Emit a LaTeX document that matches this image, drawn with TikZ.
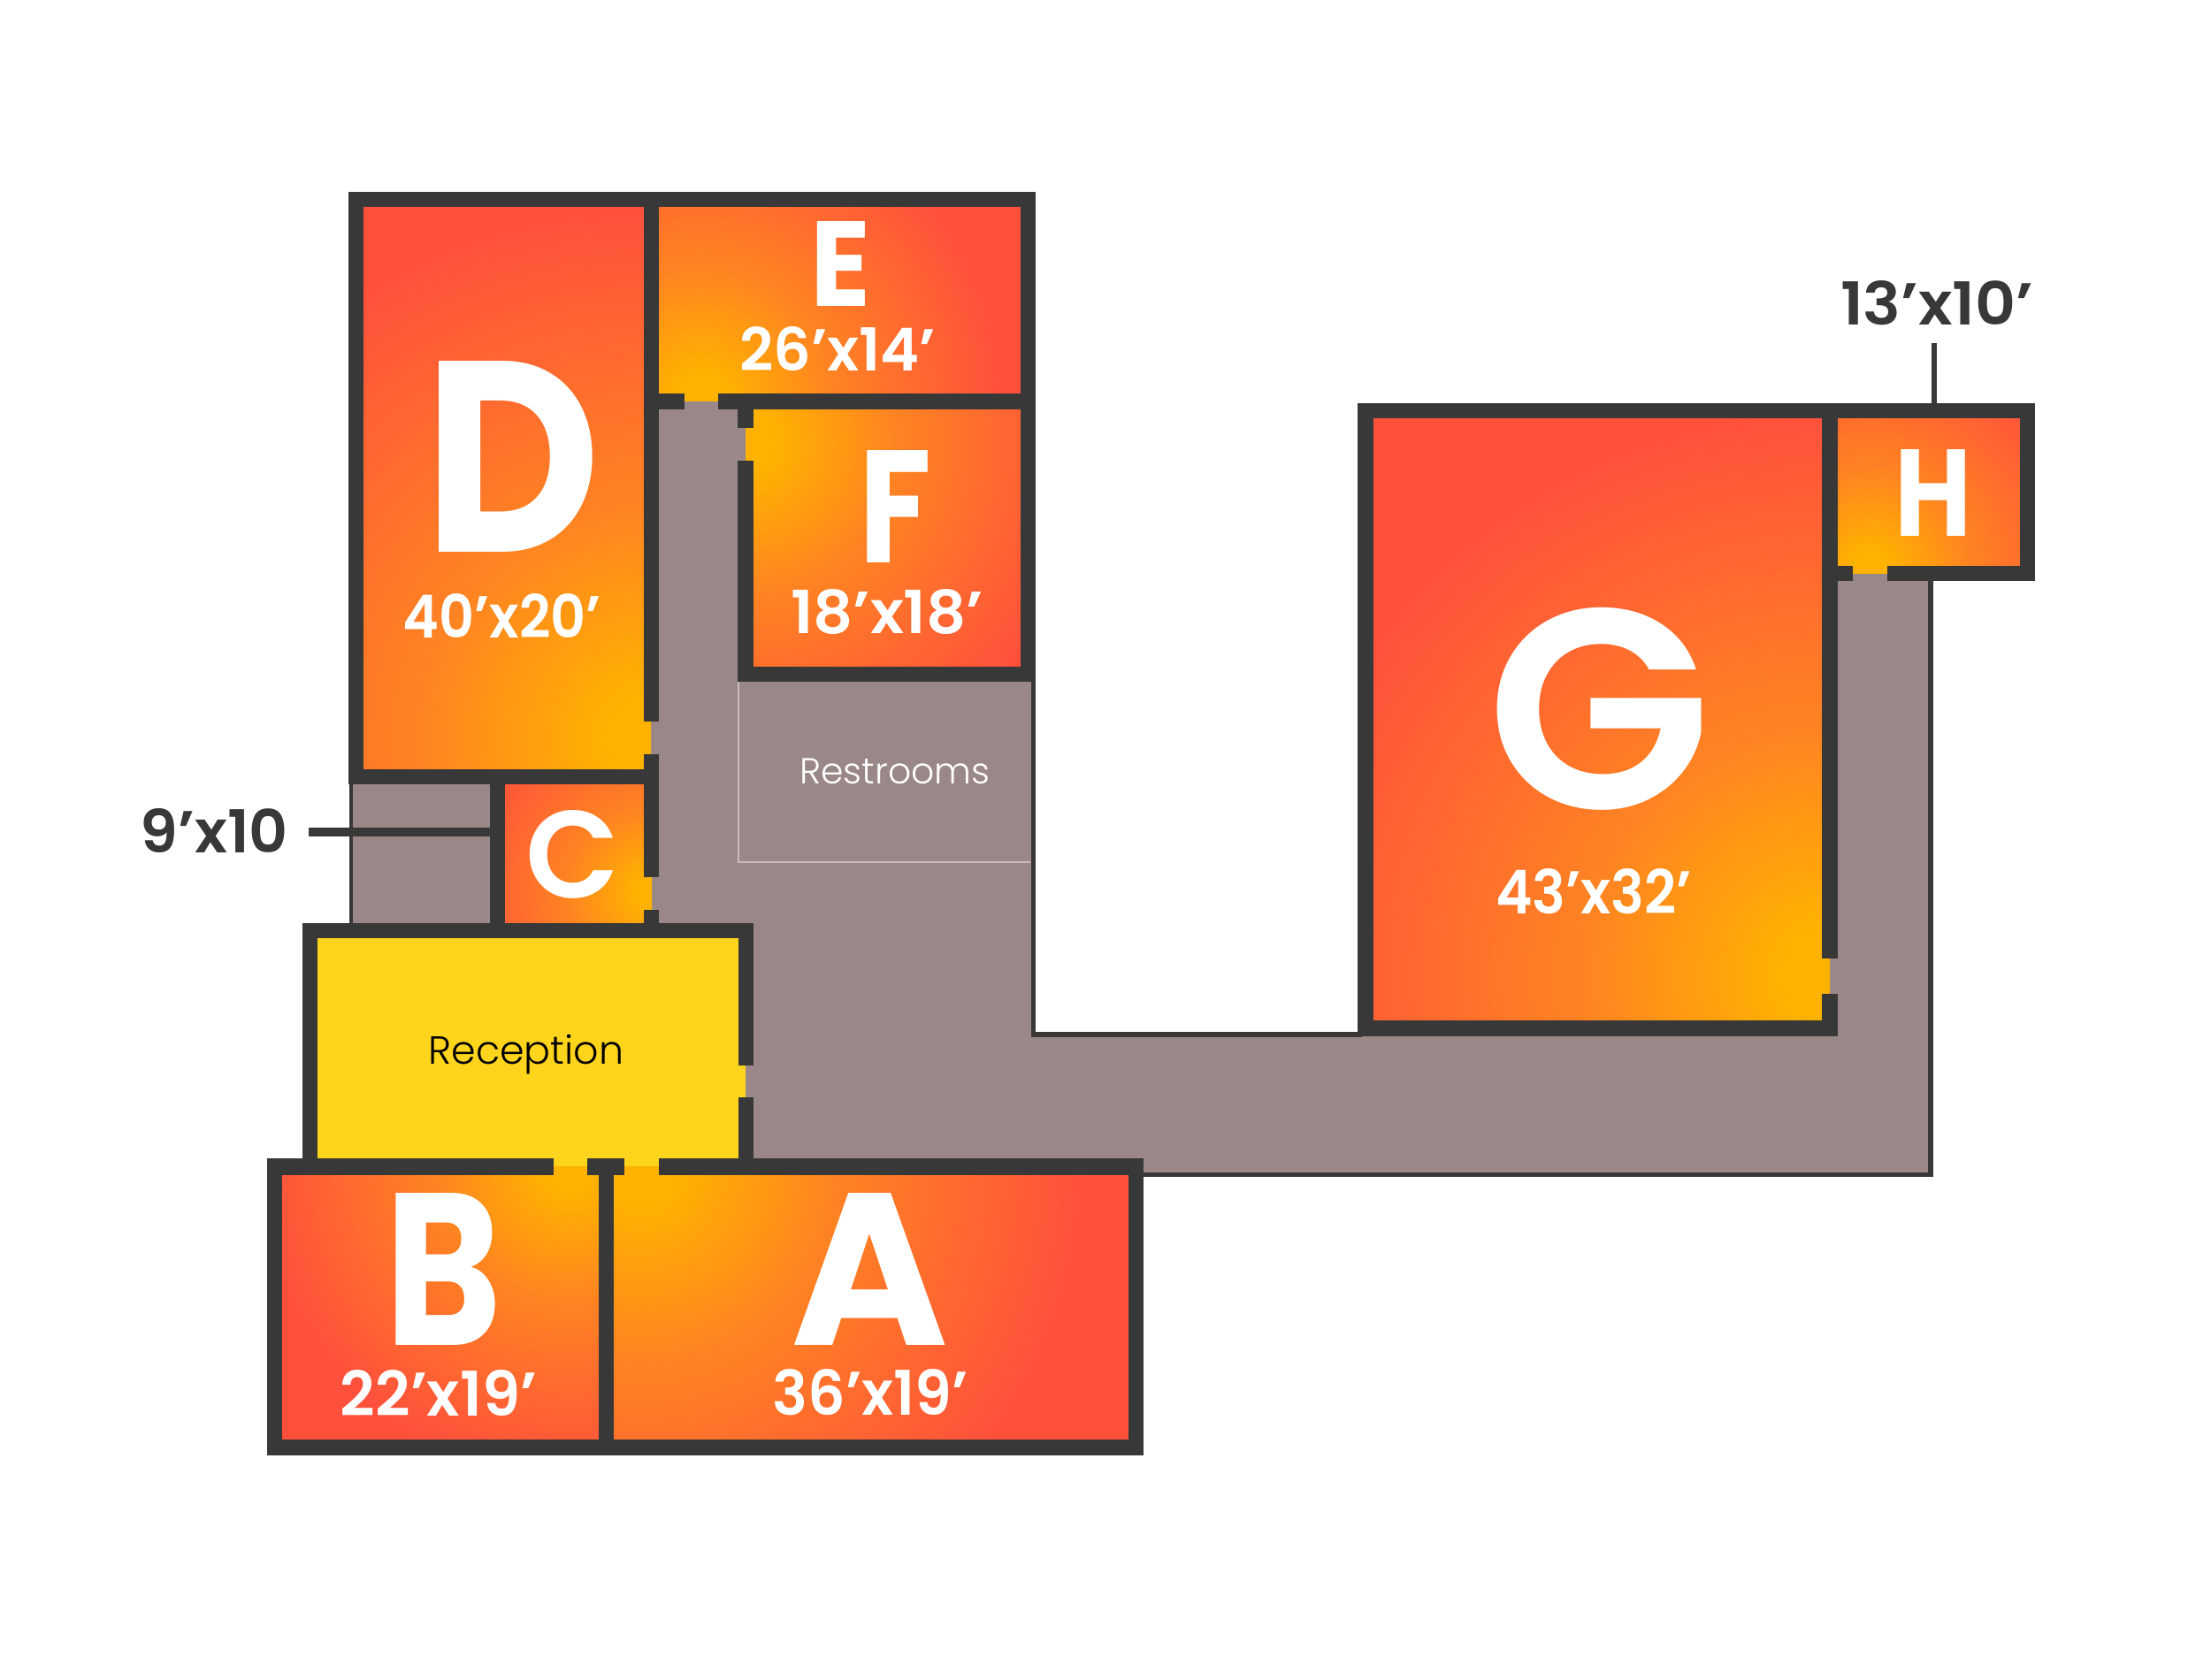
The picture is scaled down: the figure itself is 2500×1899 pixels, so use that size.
\documentclass[tikz,border=0pt]{standalone}
\usepackage{fontspec}
\setmainfont{Poppins}[BoldFont={Poppins SemiBold}]
\newfontfamily\thinfont{Poppins Light}
\newfontfamily\heavyfont{Poppins Bold}
\definecolor{wallgray}{HTML}{383838}
\definecolor{hallgray}{HTML}{9A8888}
\definecolor{roomyellow}{HTML}{FFD41C}
\definecolor{glowcore}{HTML}{FFB200}
\definecolor{glowmid}{HTML}{FF8322}
\definecolor{glowred}{HTML}{FF503C}
\pgfdeclareradialshading{doorglow}{\pgfpointorigin}{color(0bp)=(glowcore); color(2bp)=(glowcore); color(11bp)=(glowmid); color(25bp)=(glowred); color(50bp)=(glowred)}
\newlength\px
\setlength\px{0.1mm}
\newcommand{\room}[4]{%
\fill[glowred] #1 rectangle #2;
\begin{scope}
\clip #1 rectangle #2;
\shade[shading=doorglow] #3 circle [radius=#4];
\end{scope}}
\newcommand{\lbl}[3]{\resizebox{#1\px}{#2\px}{\bfseries #3}}
\newcommand{\roomletter}[3]{\resizebox{#1\px}{#2\px}{\heavyfont #3}}
\tikzset{
  wall/.style={fill=wallgray},
  tag/.style={inner sep=0pt, white},
  sidetag/.style={inner sep=0pt, wallgray},
  leader/.style={draw=wallgray, line width=10\px},
}
\begin{document}
\begin{tikzpicture}[x=1\px,y=-1\px]
\useasboundingbox (0,0) rectangle (2500,1899);

\fill[hallgray] (397,880) -- (736,880) -- (736,453.6) -- (843,453.6) -- (843,771) -- (1169,771) -- (1169,1170) -- (2069,1170) -- (2069,648.6) -- (2183,648.6) -- (2183,1328) -- (397,1328) -- cycle;
\draw[line width=1.5\px, hallgray!55!white] (835,771) -- (835,975) -- (1165,975);

\room{(411,234)}{(736,870)}{(736,835)}{600}
\room{(745,234)}{(1154,453.6)}{(792,450)}{340}
\room{(843,462)}{(1154,754)}{(843,502)}{390}
\room{(571,887)}{(737,1043)}{(737,1010)}{220}
\room{(319,1319.4)}{(677,1628)}{(645,1320)}{350}
\room{(694,1319.4)}{(1276,1628)}{(725,1320)}{500}
\room{(1552.6,473)}{(2069,1154.4)}{(2069,1104)}{640}
\room{(2078,473)}{(2284,648.6)}{(2114,645)}{260}
\fill[roomyellow] (359,1061) rectangle (843,1319.4);

\fill[wall] (394,217) rectangle (1171,234);
\fill[wall] (394,217) rectangle (411,887);
\fill[wall] (728,217) rectangle (745,816);
\fill[wall] (728,853) rectangle (745,992);
\fill[wall] (728,1029) rectangle (745,1050);
\fill[wall] (394,870) rectangle (745,887);
\fill[wall] (395,887) rectangle (399,1050);
\fill[wall] (554,887) rectangle (571,1050);
\fill[wall] (1154,217) rectangle (1171,771);
\fill[wall] (745,444.6) rectangle (774,462.5);
\fill[wall] (811.5,444.6) rectangle (1171,462.5);
\fill[wall] (834.4,444.6) rectangle (852,483.5);
\fill[wall] (834.4,521.4) rectangle (852,771);
\fill[wall] (834.4,753.6) rectangle (1171,771);
\fill[wall] (1165.5,771) rectangle (1171,1173);
\fill[wall] (1165.5,1167) rectangle (1540,1173);

\fill[wall] (342,1043.5) rectangle (852,1061.4);
\fill[wall] (342,1043.5) rectangle (359,1315);
\fill[wall] (835,1043.5) rectangle (852,1204.5);
\fill[wall] (835,1241.3) rectangle (852,1315);

\fill[wall] (302,1310) rectangle (626,1328.6);
\fill[wall] (664,1310) rectangle (706,1328.6);
\fill[wall] (744.6,1310) rectangle (1293,1328.6);
\fill[wall] (302,1310) rectangle (319,1646);
\fill[wall] (677,1310) rectangle (694,1646);
\fill[wall] (1276,1310) rectangle (1293,1646);
\fill[wall] (302,1628) rectangle (1293,1646);
\fill[wall] (1293,1325.6) rectangle (2185.6,1331);
\fill[wall] (2180,650) rectangle (2185.6,1331);

\fill[wall] (1535,456) rectangle (2301,473);
\fill[wall] (1535,456) rectangle (1552.6,1172);
\fill[wall] (1535,1154.4) rectangle (2078,1172);
\fill[wall] (2060,456) rectangle (2078,1084);
\fill[wall] (2060,1124) rectangle (2078,1172);
\fill[wall] (2284,456) rectangle (2301,657);
\fill[wall] (2060,640) rectangle (2095,657);
\fill[wall] (2133.6,640) rectangle (2301,657);

\node[tag] (letterD) at (579.5,516) {\roomletter{200}{216}{D}};
\node[tag] (sizeD) at (568,696) {\lbl{224}{50}{40’x20’}};
\node[tag] (letterE) at (950,298) {\roomletter{68}{96}{E}};
\node[tag] (sizeE) at (947,395) {\lbl{222}{50}{26’x14’}};
\node[tag] (letterF) at (1012,573) {\roomletter{82}{127}{F}};
\node[tag] (sizeF) at (1003,692) {\lbl{218}{50}{18’x18’}};
\node[tag] (letterC) at (647,966) {\lbl{106}{99}{C}};
\node[tag] (letterB) at (501,1435) {\roomletter{132}{172}{B}};
\node[tag] (sizeB) at (496,1575) {\lbl{222}{52}{22’x19’}};
\node[tag] (letterA) at (984,1435) {\roomletter{178}{172}{A}};
\node[tag] (sizeA) at (984,1575) {\lbl{221}{52}{36’x19’}};
\node[tag] (letterG) at (1808,802) {\lbl{254}{227}{G}};
\node[tag] (sizeG) at (1802,1008) {\lbl{222}{51}{43’x32’}};
\node[tag] (letterH) at (2186,557) {\roomletter{87}{98}{H}};

\node[sidetag] (sizeC) at (242.5,940) {\lbl{167}{50}{9’x10}};
\node[sidetag] (sizeH) at (2190,343) {\lbl{218}{50}{13’x10’}};

\coordinate (tagC) at (349,941);
\coordinate (wallC) at (554,941);
\draw[leader] (tagC) -- (wallC);
\coordinate (tagH) at (2187,388);
\coordinate (wallH) at (2187,456);
\draw[leader, line width=5.5\px] (tagH) -- (wallH);

\node[inner sep=0pt, black] (reception) at (595,1193) {\resizebox{221\px}{!}{\thinfont Reception}};
\node[inner sep=0pt, white] (restrooms) at (1012,872) {\resizebox{215\px}{!}{\thinfont Restrooms}};
\end{tikzpicture}
\end{document}
